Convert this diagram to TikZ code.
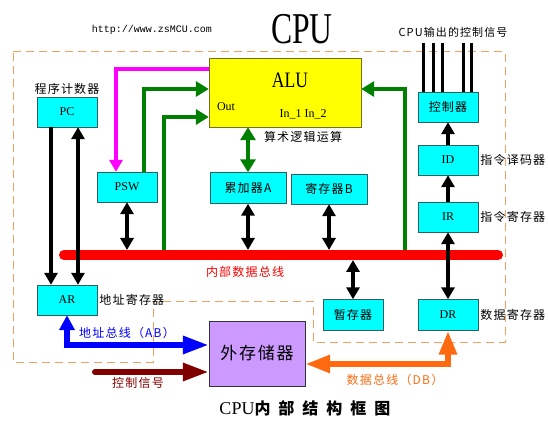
\documentclass[tikz,border=0pt]{standalone}
\usepackage{fontspec}
\usepackage{graphicx}
\setmainfont{Liberation Serif}
\setmonofont{Liberation Mono}
\newfontfamily\cjk[LetterSpace=10]{Noto Sans CJK SC}
\newfontfamily\cjktitle[LetterSpace=50]{Noto Sans CJK SC}
\usetikzlibrary{arrows.meta,positioning}

\definecolor{regcyan}{HTML}{00FFFF}
\definecolor{regline}{HTML}{2F5F5F}
\definecolor{aluyellow}{HTML}{FFFF00}
\definecolor{aluline}{HTML}{707020}
\definecolor{memviolet}{HTML}{CC99FF}
\definecolor{busred}{HTML}{FF0000}
\definecolor{flagpink}{HTML}{FF00FF}
\definecolor{ctlgreen}{HTML}{008000}
\definecolor{addrblue}{HTML}{0000FF}
\definecolor{ctlred}{HTML}{800000}
\definecolor{dataorange}{HTML}{FF6A10}
\definecolor{frameorange}{HTML}{F0A060}

\tikzset{
  Reg/.style = {draw=regline, fill=regcyan, minimum width=60pt, minimum height=30pt,
                inner sep=0pt, font=\fontsize{12}{13}\selectfont},
  Tag/.style = {inner sep=1pt, font=\cjk\fontsize{12}{13}\selectfont},
  frame/.style = {draw=frameorange, line width=1pt, dash pattern=on 8pt off 5pt},
  blk/.style = {line width=3.5pt, >={Triangle[length=12pt,width=13pt]}},
  grn/.style = {draw=ctlgreen, line width=4.5pt, >={Triangle[length=13pt,width=15pt]}},
  flag/.style = {draw=flagpink, line width=4pt, >={Triangle[length=12pt,width=13pt]}},
  bus/.style = {draw=busred, line width=10pt, line cap=round},
}

\begin{document}
\begin{tikzpicture}[x=1pt,y=-1pt]
  \useasboundingbox (0,0) rectangle (548,435);

  % CPU border
  \draw[frame] (13,52) -- (505,52) -- (505,342) -- (313,342) -- (313,301)
    -- (153,301) -- (153,362) -- (13,362) -- cycle;

  \node[font=\ttfamily\fontsize{10}{10}\selectfont] (url) at (152,30) {http://www.zsMCU.com};
  \node[font=\fontsize{44}{44}\selectfont] (cpu) at (302,29) {\scalebox{0.72}[1]{CPU}};
  \node[Tag, font=\cjk\fontsize{11}{12}\selectfont] (sigtext) at (453,32) {CPU输出的控制信号};

  % ALU
  \node[draw=aluline, fill=aluyellow, minimum width=152pt, minimum height=69pt,
        inner sep=0pt] (alu) at (285,92.5) {};
  \node[font=\fontsize{22}{22}\selectfont] (aluname) at (290,80) {\scalebox{0.8}[1]{ALU}};
  \node[font=\fontsize{12}{12}\selectfont] (out) at (226,107) {Out};
  \node[font=\fontsize{12}{12}\selectfont] (inp) at (303,114) {In\_1 In\_2};
  \node[Tag] (alunote) at (303,137) {算术逻辑运算};

  % registers
  \node[Reg] (pc) at (67,112) {PC};
  \node[Reg] (ar) at (67,300) {AR};
  \node[Reg] (psw) at (127,187) {PSW};
  \node[Reg, minimum width=76pt, minimum height=31pt] (acca) at (248,188) {\cjk 累加器A};
  \node[Reg, minimum width=76pt] (regb) at (329,189) {\cjk 寄存器B};
  \node[Reg, minimum height=31pt] (tmp) at (353,315) {\cjk 暂存器};
  \node[Reg] (ctrl) at (448,107) {\cjk 控制器};
  \node[Reg] (id) at (448,160) {ID};
  \node[Reg] (ir) at (448,217) {IR};
  \node[Reg, minimum height=31pt] (dr) at (448,315) {DR};

  \node[Tag, above=1pt of pc] (pcname) {程序计数器};
  \node[Tag, right=1pt of ar] (arname) {地址寄存器};
  \node[Tag, right=1pt of id] (idname) {指令译码器};
  \node[Tag, right=1pt of ir] (irname) {指令寄存器};
  \node[Tag, right=1pt of dr] (drname) {数据寄存器};

  % memory
  \node[draw=black!80, fill=memviolet, minimum width=96pt, minimum height=65pt,
        font=\cjk\fontsize{17}{17}\selectfont] (mem) at (257,353.5) {外存储器};

  % internal bus
  \coordinate (busL) at (64,255);
  \coordinate (busR) at (498,255);
  \coordinate (busT) at (64,250);
  \coordinate (busB) at (64,260);
  \coordinate (tapA) at (164,255);
  \coordinate (tapB) at (405,255);

  \draw[flag,->] ([yshift=23.5pt]alu.west) -| ([xshift=-11pt]psw.north);
  \draw[grn,->] ([xshift=17pt]psw.north) |- ([yshift=3.5pt]alu.west);
  \draw[grn,->] (tapA) |- ([yshift=-24.5pt]alu.west);
  \draw[grn,->] (tapB) |- ([yshift=3.5pt]alu.east);
  \draw[grn,<->] (alu.south -| acca.north) -- (acca.north);

  \draw[bus] (busL) -- (busR);
  \node[Tag, text=busred] (buslbl) at (245,272) {内部数据总线};

  \draw[blk,<->] (psw.south) -- (psw.south |- busT);
  \draw[blk,<->] (acca.south) -- (acca.south |- busT);
  \draw[blk,<->] (regb.south) -- (regb.south |- busT);
  \draw[blk,<->] (tmp.north |- busB) -- (tmp.north);
  \draw[blk,<->] (ir.south) -- (dr.north);
  \draw[blk,->] (ir.north) -- (id.south);
  \draw[blk,->] (id.north) -- (ctrl.south);
  \draw[blk,->] ([xshift=-16pt]pc.south) -- ([xshift=-16pt]ar.north);
  \draw[blk,<->] ([xshift=11pt]pc.south) -- ([xshift=11pt]ar.north);

  % control signals out of the CPU
  \foreach \x [count=\i] in {423,433,442,463,471} {
    \coordinate (sig\i) at (\x,43);
    \draw[line width=3pt] (sig\i) -- (sig\i |- ctrl.north);
  }

  % external buses
  \coordinate (ctlsrc) at (95,372);
  \draw[draw=addrblue, line width=6pt,
        {Triangle[length=15pt,width=15pt]}-{Triangle[length=26pt,width=17pt]}]
    (ar.south) |- ([yshift=8.5pt]mem.west);
  \draw[draw=ctlred, line width=6pt, line cap=round, -{Triangle[length=26pt,width=17pt]}]
    (ctlsrc) -- ([yshift=-18.5pt]mem.west);
  \draw[draw=dataorange, line width=6pt,
        {Triangle[length=24pt,width=17pt]}-{Triangle[length=25pt,width=17pt]}]
    (dr.south) |- ([yshift=-10.5pt]mem.east);

  \node[Tag, text=addrblue] (ablbl) at (127,333) {地址总线（AB）};
  \node[Tag, text=ctlred] (ctllbl) at (138,383) {控制信号};
  \node[Tag, text=dataorange] (dblbl) at (395,380) {数据总线（DB）};

  \node (title) at (305,408) {\fontsize{18}{18}\selectfont CPU\cjktitle\bfseries\fontsize{16}{16}\selectfont 内部结构框图};
\end{tikzpicture}
\end{document}
